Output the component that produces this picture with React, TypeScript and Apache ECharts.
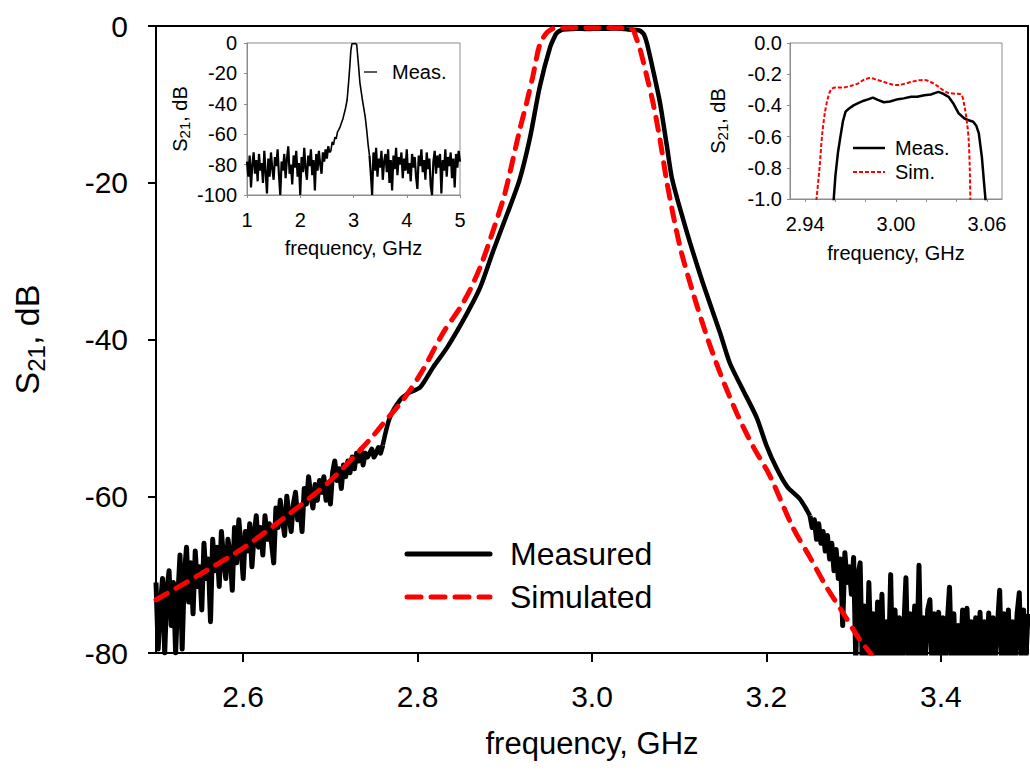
import React, { useEffect, useRef } from "react";
import * as echarts from "echarts";

const FONT = "'Liberation Sans', Arial, Helvetica, sans-serif";

// ---------- main chart ----------
const MAIN_X_TICKS = [2.6, 2.8, 3.0, 3.2, 3.4];
const NOISE_STEP = 0.0025;
const MEAS_LEFT_START = 2.5;
const measLeftNoise = [
  -71, -79.5, -74, -70.5, -80,
  -72, -69.5, -76.5, -71,
  -80, -73, -67.5, -79.5,
  -70, -66.5, -73.5, -68.5, -75, -67, -71.5, -69,
  -74.5, -66, -70.5, -68, -76, -65.5,
  -69.5, -66.5, -71.5, -64.5, -68, -70.5, -65.5, -67.5, -72,
  -64, -68.5, -63, -66.5, -70.5, -64.5, -67, -63.5, -69, -65,
  -62.5, -66.5, -64, -67.5, -62.5, -65.5, -63.5, -66, -68.5,
  -61.5, -64, -60.5, -63, -65, -60, -62.5, -64.5, -61, -59.5, -63, -61.5, -64.5,
  -59, -61, -57.5, -60, -61.5, -58.5, -60.5, -58, -59.5, -57.5, -60.5, -58.5, -61,
  -57, -55.5, -58, -56.5, -59, -56, -57.5, -55.5, -57,
  -55, -56.5, -54.5, -55.5, -54, -56, -54.5, -55, -54.5,
  -54, -55, -54.5, -53.8, -54.5, -53.5,
];
const measMid: [number, number][] = [
  [2.768, -50.0], [2.78, -47.7], [2.79, -46.8], [2.803, -46.1], [2.818, -43.5],
  [2.834, -41.0], [2.857, -36.6], [2.872, -33.3], [2.887, -28.6], [2.903, -23.9],
  [2.917, -19.6], [2.929, -14.2], [2.94, -7.8], [2.952, -2.7], [2.9585, -1.05],
  [2.96, -0.85], [2.9633, -0.6], [2.9667, -0.44], [2.972, -0.4], [2.9787, -0.37],
  [2.9847, -0.35], [2.992, -0.38], [3.0013, -0.36], [3.01, -0.345], [3.0187, -0.335],
  [3.028, -0.313], [3.0347, -0.345], [3.0413, -0.45], [3.051, -0.505], [3.0547, -0.58],
  [3.0567, -0.73], [3.0595, -1.05], [3.063, -2.2], [3.07, -5.6], [3.078, -9.8],
  [3.086, -15.4], [3.092, -19.6], [3.108, -26.0], [3.126, -32.4], [3.147, -39.2],
  [3.158, -43.0], [3.173, -46.4], [3.189, -50.0], [3.2, -53.5], [3.212, -56.5],
  [3.224, -58.8], [3.238, -60.3], [3.245, -61.5],
];
const MEAS_RIGHT_START = 3.25;
const measRightNoise = [
  -62.5, -64, -63, -65.5, -63.5, -66, -64.5, -67, -65,
  -68, -66, -69.5, -66.8, -70.5, -68, -76.5, -67.2, -71, -69, -72.5, -67.8, -81, -70, -68.5, -82,
  -74, -83, -71, -80.5, -75, -84, -73.5, -81, -72.5, -83.5, -76, -82, -70, -84, -74.5, -81.5, -75.5, -83, -77, -70.4, -82.5, -75, -84, -74, -81,
  -68.8, -83, -75.5, -80.5, -74.5, -73.2, -82, -75, -84, -74.8, -81, -75.5, -83.5, -76, -71.6, -82, -75, -84, -76.5, -81, -74.5, -83, -74.3, -80.5, -76,
  -84, -75.5, -82, -74.8, -83, -76, -81, -74.9, -84, -75.5, -80.5, -76.5, -72, -83, -75, -81.5, -74.5, -84, -76, -82, -75, -72.3, -83, -74.5, -81, -75,
];
const simMain: [number, number][] = [
  [2.5, -73.2], [2.55, -70.0], [2.6, -66.6], [2.65, -62.5], [2.7, -58.0],
  [2.745, -52.8], [2.757, -51.2], [2.786, -47.3], [2.806, -43.9], [2.829, -39.2],
  [2.849, -35.9], [2.86, -33.7], [2.872, -30.7], [2.883, -27.3], [2.898, -22.2],
  [2.904, -19.6], [2.917, -13.3], [2.925, -9.8], [2.932, -6.5], [2.94, -2.4],
  [2.947, -1.0], [2.9513, -0.58], [2.9547, -0.365], [2.96, -0.285], [2.983, -0.225],
  [3.0013, -0.27], [3.0187, -0.237], [3.043, -0.33], [3.048, -0.62], [3.0492, -1.05],
  [3.055, -2.9], [3.063, -6.5], [3.07, -9.8], [3.078, -14.5], [3.086, -20.0],
  [3.101, -28.2], [3.116, -34.1], [3.132, -39.7], [3.147, -44.3], [3.166, -49.4],
  [3.185, -53.7], [3.204, -57.4], [3.23, -63.9], [3.25, -67.8], [3.269, -71.6],
  [3.288, -74.9], [3.307, -78.3], [3.319, -80.0], [3.33, -82.0],
];

// ---------- left inset (wide span) ----------
const INSET_STEP = 0.025;
const INSET_LEFT_START = 1.0;
const insetNoiseLeft = [
  -78, -88, -74, -95, -80, -72, -86, -77, -91, -73,
  -84, -79, -92, -71, -85, -99, -76, -88, -72, -83,
  -90, -75, -81, -70, -87, -100, -78, -84, -73, -89,
  -76, -68, -86, -80, -93, -74, -82, -71, -88, -79,
  -100, -75, -85, -69, -83, -90, -74, -81, -70, -87,
  -77, -97, -73, -84, -71, -80, -86, -72, -78, -70,
  -76, -68, -72,
];
const insetPeak: [number, number][] = [
  [2.575, -71], [2.6, -65], [2.625, -67], [2.65, -62], [2.675, -63], [2.7, -58.5],
  [2.725, -57], [2.75, -55], [2.8, -50], [2.85, -43], [2.88, -37.5], [2.91, -25],
  [2.93, -15.8], [2.95, -5], [2.97, -0.5], [3.0, -0.4], [3.04, -0.4], [3.06, -1],
  [3.09, -13], [3.12, -26], [3.17, -38], [3.22, -48.6], [3.25, -58], [3.275, -67],
];
const INSET_RIGHT_START = 3.3;
const insetNoiseRight = [
  -74, -86, -100, -72, -84, -69, -88, -76, -82, -71,
  -90, -78, -73, -85, -70, -92, -77, -97, -74, -83,
  -69, -87, -75, -80, -72, -89, -76, -84, -70, -86,
  -79, -91, -73, -82, -75, -88, -96, -74, -81, -70,
  -85, -77, -90, -72, -83, -76, -94, -100, -78, -71,
  -86, -74, -82, -73, -99, -77, -84, -70, -88, -75,
  -81, -72, -89, -76, -95, -73, -82, -71, -78,
];

// ---------- right inset (passband zoom) ----------
const ZOOM_X_TICKS = [2.94, 2.96, 2.98, 3.0, 3.02, 3.04, 3.06];
const ZOOM_X_LABELS = [2.94, 3.0, 3.06];
const zoomMeas: [number, number][] = [
  [2.9585, -1.05], [2.96, -0.85], [2.9617, -0.7], [2.9633, -0.6], [2.965, -0.5],
  [2.9667, -0.44], [2.969, -0.42], [2.972, -0.4], [2.975, -0.385], [2.9787, -0.37],
  [2.982, -0.36], [2.9847, -0.35], [2.988, -0.365], [2.992, -0.38], [2.996, -0.375],
  [3.0013, -0.36], [3.005, -0.355], [3.01, -0.345], [3.014, -0.345], [3.0187, -0.335],
  [3.023, -0.33], [3.026, -0.32], [3.028, -0.313], [3.031, -0.325], [3.0347, -0.345],
  [3.038, -0.39], [3.0413, -0.45], [3.0453, -0.485], [3.048, -0.495], [3.051, -0.505],
  [3.053, -0.53], [3.0547, -0.58], [3.0567, -0.73], [3.058, -0.88], [3.0595, -1.05],
];
const zoomSim: [number, number][] = [
  [2.947, -1.05], [2.9495, -0.8], [2.9513, -0.58], [2.953, -0.45], [2.9547, -0.365],
  [2.957, -0.3], [2.96, -0.285], [2.965, -0.285], [2.97, -0.275], [2.9747, -0.26],
  [2.979, -0.235], [2.983, -0.225], [2.987, -0.235], [2.992, -0.25], [2.997, -0.265],
  [3.0013, -0.27], [3.006, -0.26], [3.01, -0.25], [3.0145, -0.24], [3.0187, -0.237],
  [3.023, -0.25], [3.028, -0.28], [3.0315, -0.305], [3.0347, -0.32], [3.039, -0.325],
  [3.043, -0.33], [3.0453, -0.41], [3.047, -0.52], [3.048, -0.62], [3.0487, -0.8],
  [3.0492, -1.05],
];

const toPairs = (start: number, step: number, vals: number[]): [number, number][] =>
  vals.map((v, i) => [+(start + i * step).toFixed(5), v]);

const leftNoisePairs = toPairs(MEAS_LEFT_START, NOISE_STEP, measLeftNoise);
const rightNoisePairs = toPairs(MEAS_RIGHT_START, NOISE_STEP, measRightNoise);
const midPairs = [leftNoisePairs[leftNoisePairs.length - 1], ...measMid, rightNoisePairs[0]];
const insetNoiseLeftPairs = toPairs(INSET_LEFT_START, INSET_STEP, insetNoiseLeft);
const insetNoiseRightPairs = toPairs(INSET_RIGHT_START, INSET_STEP, insetNoiseRight);
const insetPeakPairs = [insetNoiseLeftPairs[insetNoiseLeftPairs.length - 1], ...insetPeak, insetNoiseRightPairs[0]];

const s21Rich = (big: number, small: number, lh: number, slh: number) => ({
  a: { fontSize: big, fontFamily: FONT, color: "#000", lineHeight: lh },
  b: { fontSize: small, fontFamily: FONT, color: "#000", lineHeight: slh, verticalAlign: "bottom" },
});

export default function App() {
  const ref = useRef<HTMLDivElement>(null);
  useEffect(() => {
    const chart = echarts.init(ref.current!, null, { renderer: "svg" });
    const gray = "#8c8c8c";
    const insetAxisCommon = {
      axisLine: { show: true, onZero: false, lineStyle: { color: gray, width: 1 } },
      axisTick: { show: true, length: 3, lineStyle: { color: gray, width: 1 } },
      splitLine: { show: false },
    };
    const measLine = { color: "#000", width: 4.5, join: "round" };
    const lineBase = { type: "line", symbol: "none", showSymbol: false, clip: true };
    const option: any = {
      animation: false,
      backgroundColor: "#fff",
      grid: [
        { left: 156, top: 26, width: 872, height: 627, show: true, borderColor: "#000", borderWidth: 2, containLabel: false },
        { left: 247, top: 43, width: 213, height: 152, show: true, borderColor: gray, borderWidth: 1, containLabel: false },
        { left: 790, top: 43, width: 212, height: 156, show: true, borderColor: gray, borderWidth: 1, containLabel: false },
      ],
      xAxis: [
        {
          gridIndex: 0, type: "value", min: 2.5, max: 3.5,
          axisLine: { show: true, onZero: false, lineStyle: { color: "#000", width: 2 } },
          axisTick: { show: true, customValues: MAIN_X_TICKS, length: 9, lineStyle: { color: "#000", width: 2 } },
          axisLabel: { customValues: MAIN_X_TICKS, formatter: (v: number) => v.toFixed(1), fontSize: 30, color: "#000", fontFamily: FONT, margin: 28 },
          splitLine: { show: false },
          name: "frequency, GHz", nameLocation: "middle", nameGap: 75,
          nameTextStyle: { fontSize: 31, color: "#000", fontFamily: FONT },
        },
        {
          gridIndex: 1, type: "value", min: 1, max: 5, interval: 1, ...insetAxisCommon,
          axisLabel: { fontSize: 20, color: "#000", fontFamily: FONT, margin: 15 },
          name: "frequency, GHz", nameLocation: "middle", nameGap: 43,
          nameTextStyle: { fontSize: 20, color: "#000", fontFamily: FONT },
        },
        {
          gridIndex: 2, type: "value", min: 2.93, max: 3.07, ...insetAxisCommon,
          axisTick: { show: true, length: 3, customValues: ZOOM_X_TICKS, lineStyle: { color: gray, width: 1 } },
          axisLabel: { customValues: ZOOM_X_LABELS, formatter: (v: number) => v.toFixed(2), fontSize: 20, color: "#000", fontFamily: FONT, margin: 15 },
          name: "frequency, GHz", nameLocation: "middle", nameGap: 44,
          nameTextStyle: { fontSize: 20, color: "#000", fontFamily: FONT },
        },
      ],
      yAxis: [
        {
          gridIndex: 0, type: "value", min: -80, max: 0, interval: 20,
          axisLine: { show: true, onZero: false, lineStyle: { color: "#000", width: 2 } },
          axisTick: { show: true, length: 8, lineStyle: { color: "#000", width: 2 } },
          axisLabel: { fontSize: 30, color: "#000", fontFamily: FONT, margin: 28 },
          splitLine: { show: false },
          name: "{a|S}{b|21}{a|, dB}", nameLocation: "middle", nameRotate: 90, nameGap: 108,
          nameTextStyle: { rich: s21Rich(34, 24, 42, 22) },
        },
        {
          gridIndex: 1, type: "value", min: -100, max: 0, interval: 20, ...insetAxisCommon,
          axisLabel: { fontSize: 20, color: "#000", fontFamily: FONT, margin: 10 },
          name: "{a|S}{b|21}{a|, dB}", nameLocation: "middle", nameRotate: 90, nameGap: 55,
          nameTextStyle: { rich: s21Rich(20, 15, 24, 14) },
        },
        {
          gridIndex: 2, type: "value", min: -1, max: 0, interval: 0.2, ...insetAxisCommon,
          axisLabel: { formatter: (v: number) => v.toFixed(1), fontSize: 20, color: "#000", fontFamily: FONT, margin: 8 },
          name: "{a|S}{b|21}{a|, dB}", nameLocation: "middle", nameRotate: 90, nameGap: 60,
          nameTextStyle: { rich: s21Rich(20, 15, 24, 14) },
        },
      ],
      series: [
        { ...lineBase, name: "Measured", xAxisIndex: 0, yAxisIndex: 0, data: leftNoisePairs, z: 2, lineStyle: { ...measLine, width: 5 } },
        { ...lineBase, name: "Measured", xAxisIndex: 0, yAxisIndex: 0, data: midPairs, smooth: 0.25, z: 2, lineStyle: measLine },
        { ...lineBase, name: "Measured", xAxisIndex: 0, yAxisIndex: 0, data: rightNoisePairs, z: 2, lineStyle: { ...measLine, width: 5 } },
        {
          ...lineBase, name: "Simulated", xAxisIndex: 0, yAxisIndex: 0, data: simMain, smooth: 0.3, z: 3,
          lineStyle: { color: "#ff0000", width: 5, type: [13, 10], cap: "round" },
        },
        { ...lineBase, name: "Meas.", xAxisIndex: 1, yAxisIndex: 1, data: insetNoiseLeftPairs, z: 2, lineStyle: { color: "#000", width: 2.2 } },
        { ...lineBase, name: "Meas.", xAxisIndex: 1, yAxisIndex: 1, data: insetPeakPairs, z: 2, lineStyle: { color: "#000", width: 1.6 } },
        { ...lineBase, name: "Meas.", xAxisIndex: 1, yAxisIndex: 1, data: insetNoiseRightPairs, z: 2, lineStyle: { color: "#000", width: 2.2 } },
        { ...lineBase, name: "Meas. zoom", xAxisIndex: 2, yAxisIndex: 2, data: zoomMeas, z: 2, lineStyle: { color: "#000", width: 2.5 } },
        {
          ...lineBase, name: "Sim.", xAxisIndex: 2, yAxisIndex: 2, data: zoomSim, smooth: 0.3, z: 3,
          lineStyle: { color: "#ff0000", width: 2, type: [4, 2] },
        },
      ],
      graphic: [
        { type: "line", shape: { x1: 407, y1: 554, x2: 490, y2: 554 }, style: { stroke: "#000", lineWidth: 5, lineCap: "round" } },
        { type: "line", shape: { x1: 407, y1: 597, x2: 490, y2: 597 }, style: { stroke: "#ff0000", lineWidth: 5, lineDash: [14, 10], lineCap: "round" } },
        { type: "text", x: 510, y: 554, style: { text: "Measured", fontSize: 32, fontFamily: FONT, fill: "#000", verticalAlign: "middle", align: "left" } },
        { type: "text", x: 510, y: 597, style: { text: "Simulated", fontSize: 32, fontFamily: FONT, fill: "#000", verticalAlign: "middle", align: "left" } },
        { type: "line", shape: { x1: 364, y1: 72, x2: 377, y2: 72 }, style: { stroke: "#000", lineWidth: 1.3 } },
        { type: "text", x: 392, y: 72, style: { text: "Meas.", fontSize: 20, fontFamily: FONT, fill: "#000", verticalAlign: "middle", align: "left" } },
        { type: "line", shape: { x1: 853, y1: 148, x2: 885, y2: 148 }, style: { stroke: "#000", lineWidth: 2.5 } },
        { type: "line", shape: { x1: 853, y1: 172, x2: 885, y2: 172 }, style: { stroke: "#ff0000", lineWidth: 2, lineDash: [4, 2] } },
        { type: "text", x: 895, y: 148, style: { text: "Meas.", fontSize: 20, fontFamily: FONT, fill: "#000", verticalAlign: "middle", align: "left" } },
        { type: "text", x: 895, y: 172, style: { text: "Sim.", fontSize: 20, fontFamily: FONT, fill: "#000", verticalAlign: "middle", align: "left" } },
      ],
    };
    chart.setOption(option);
    return () => chart.dispose();
  }, []);
  return (
    <div
      ref={ref}
      style={{ position: "fixed", left: 0, top: 0, width: 1030, height: 776, background: "#fff" }}
    />
  );
}
